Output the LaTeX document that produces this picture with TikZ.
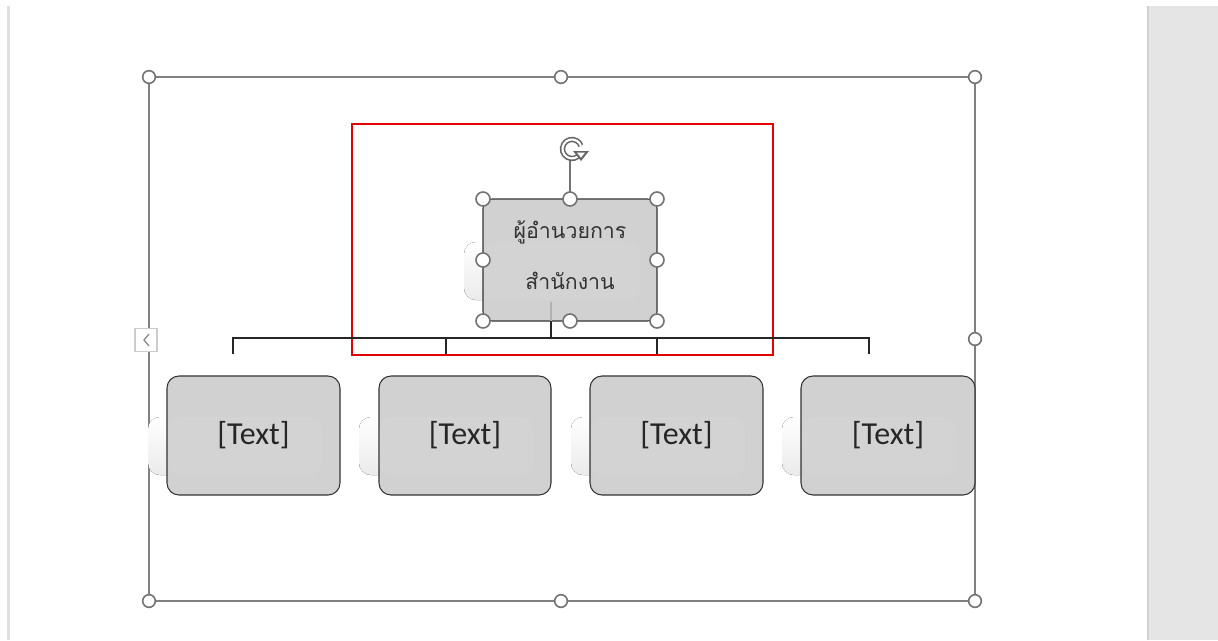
\documentclass[tikz,border=0pt]{standalone}
\usepackage{fontspec}
\setmainfont{Carlito}
\newfontfamily\thaifont[Script=Thai]{Loma}
\usetikzlibrary{arrows.meta}
\begin{document}
\begin{tikzpicture}[x=0.75pt,y=-0.75pt,
  frameline/.style={draw=black!50,line width=1.1pt},
  handle/.style={circle,draw=black!55,fill=white,line width=1.2pt,minimum size=9.5pt,inner sep=0pt},
  orgbox/.style={draw=black!80,fill=black!18,rounded corners=9pt,line width=0.8pt,inner sep=0pt},
  ghost/.style={top color=white,bottom color=black!8,rounded corners=9pt,draw=none},
  conn/.style={draw=black!85,line width=0.8pt},
  label/.style={font=\fontsize{24}{28}\selectfont,text=black!85},
  thailabel/.style={font=\thaifont\fontsize{16}{19}\selectfont,text=black!80}]
\useasboundingbox (0,0) rectangle (1218,640);
\fill[white] (0,0) rectangle (1218,640);
% page edge on the left and side panel on the right
\fill[black!12] (7,6) rectangle (10,640);
\fill[black!10] (1147,6) rectangle (1218,640);
\fill[black!18] (1147,6) rectangle (1149,640);
% outer selection frame
\coordinate (f1) at (149,77);
\coordinate (f2) at (975,601);
\draw[frameline] (f1) rectangle (f2);
% collapse tab on the left edge
\node[draw=black!20,fill=white,minimum width=16.5pt,minimum height=17pt,inner sep=0pt,line width=0.8pt] (tab) at (146,340) {};
\draw[black!45,line width=1pt] (149,334) -- (144,340) -- (149,346);
% red highlight
\draw[red!90!black,line width=1.6pt] (352,124) rectangle (773,355);
% reflection shapes behind the boxes
\fill[ghost] (464,242) rectangle (640,300);
\foreach \x in {148,359,571,782} {
  \fill[ghost] (\x,417) rectangle ({\x+174},475);
}
% manager box
\node[orgbox,minimum width=130.5pt,minimum height=91.5pt,rounded corners=7pt] (top) at (570,260) {};
\fill[white,opacity=0.05,rounded corners=9pt] (484,242) rectangle (640,300);
\node[thailabel] (t1) at (570,232) {ผู้อำนวยการ};
\node[thailabel] (t2) at (570,281) {สำนักงาน};
% staff boxes
\node[orgbox,minimum width=129.75pt,minimum height=89.25pt] (b1) at (253.5,435.5) {};
\node[orgbox,minimum width=129pt,minimum height=89.25pt] (b2) at (465,435.5) {};
\node[orgbox,minimum width=129.75pt,minimum height=89.25pt] (b3) at (676.5,435.5) {};
\node[orgbox,minimum width=130.5pt,minimum height=89.25pt] (b4) at (888,435.5) {};
% faint reflection showing through the boxes
\foreach \x in {148,359,571,782} {
  \fill[white,opacity=0.05,rounded corners=9pt] ({\x+20},417) rectangle ({\x+174},475);
}
\node[label] at (b1) {[Text]};
\node[label] at (b2) {[Text]};
\node[label] at (b3) {[Text]};
\node[label] at (b4) {[Text]};
% connectors
\coordinate (stemtop) at (551,302);
\coordinate (stembot) at (551,338);
\coordinate (d1) at (233,354);
\coordinate (d2) at (446,354);
\coordinate (d3) at (657,354);
\coordinate (d4) at (869,354);
\draw[black!30,line width=0.8pt] (stemtop) -- (551,321);
\draw[conn,line width=1.1pt] (551,321) -- (stembot);
\draw[conn] (d1) |- (stembot) -| (d4);
\draw[conn] (stembot) -| (d2);
\draw[conn] (stembot) -| (d3);
% rotation handle
\draw[black!55,line width=0.8pt] (570,199) -- (570,160);
\draw[black!60,line width=4pt] (580.2,153.7) arc[start angle=30,end angle=340,radius=9.5];
\draw[white,line width=1.6pt] (580.2,153.7) arc[start angle=30,end angle=340,radius=9.5];
\fill[black!60] (573,151) -- (589,151) -- (581,161) -- cycle;
\fill[white] (577,152.6) -- (585,152.6) -- (581,157.6) -- cycle;
% handles of the selected box
\foreach \n/\p in {h1/{483,199},h2/{570,199},h3/{657,199},h4/{483,260},h5/{657,260},h6/{483,321},h7/{570,321},h8/{657,321}} {
  \node[handle,minimum size=10.5pt] (\n) at (\p) {};
}
% handles of the frame
\foreach \n/\p in {g1/{149,77},g2/{561,77},g3/{975,77},g4/{975,339},g5/{975,601},g6/{561,601},g7/{149,601}} {
  \node[handle] (\n) at (\p) {};
}
\end{tikzpicture}
\end{document}
